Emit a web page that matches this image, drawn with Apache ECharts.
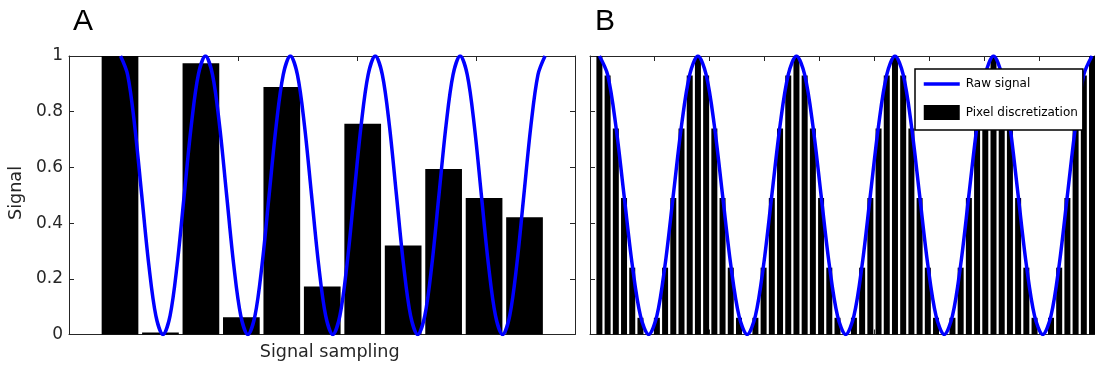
<!DOCTYPE html>
<html>
<head>
<meta charset="utf-8">
<script src="https://cdn.jsdelivr.net/npm/echarts@6/dist/echarts.min.js"></script>
<style>
html, body { margin: 0; padding: 0; background: #fff; }
#chart { width: 1095px; height: 365px; }
</style>
</head>
<body>
<div id="chart"></div>
<script>
// raw signal at 12 points per period (5 periods)
var rawSignal = [
	1, 0.933, 0.75, 0.5, 0.25, 0.067, 0, 0.067, 0.25, 0.5, 0.75, 0.933,
	1, 0.933, 0.75, 0.5, 0.25, 0.067, 0, 0.067, 0.25, 0.5, 0.75, 0.933,
	1, 0.933, 0.75, 0.5, 0.25, 0.067, 0, 0.067, 0.25, 0.5, 0.75, 0.933,
	1, 0.933, 0.75, 0.5, 0.25, 0.067, 0, 0.067, 0.25, 0.5, 0.75, 0.933,
	1, 0.933, 0.75, 0.5, 0.25, 0.067, 0, 0.067, 0.25, 0.5, 0.75, 0.933,
	1
];

// panel A: coarse pixels
var coarsePixels = [1.0, 0.007, 0.974, 0.062, 0.889, 0.172, 0.757, 0.32, 0.594, 0.49, 0.421];

// panel B: fine pixels
var finePixels = [
	1, 0.93, 0.74, 0.49, 0.24, 0.06, 0, 0.06, 0.24, 0.49, 0.74, 0.93,
	1, 0.93, 0.74, 0.49, 0.24, 0.06, 0, 0.06, 0.24, 0.49, 0.74, 0.93,
	1, 0.93, 0.74, 0.49, 0.24, 0.06, 0, 0.06, 0.24, 0.49, 0.74, 0.93,
	1, 0.93, 0.74, 0.49, 0.24, 0.06, 0, 0.06, 0.24, 0.49, 0.74, 0.93,
	1, 0.93, 0.74, 0.49, 0.24, 0.06, 0, 0.06, 0.24, 0.49, 0.74, 0.93,
	1
];

// unlabelled x tick positions (in pixel index units)
var coarseTicks = [-0.03, 2.92, 5.86, 8.8];
var fineTicks = [-0.05, 6.65, 13.35, 20.05, 26.75, 33.45, 40.15, 46.85, 53.55];

var axisColor = '#262626';
var font = 'DejaVu Sans';

function toPoints(arr)
{
	return arr.map(function(v, i) { return [i, v]; });
}

function xFrame(grid, pos, min, max, ticks)
{
	return {
		gridIndex: grid, type: 'value', position: pos, min: min, max: max,
		axisLine: { show: true, onZero: false, lineStyle: { color: axisColor, width: 1 } },
		axisTick: { show: true, inside: true, length: 5, customValues: ticks, lineStyle: { color: axisColor } },
		axisLabel: { show: false },
		splitLine: { show: false }
	};
}

function yFrame(grid, pos, labels)
{
	return {
		gridIndex: grid, type: 'value', position: pos, min: 0, max: 1, interval: 0.2,
		axisLine: { show: true, onZero: false, lineStyle: { color: axisColor, width: 1 } },
		axisTick: { show: true, inside: true, length: 5, lineStyle: { color: axisColor } },
		axisLabel: {
			show: labels, margin: 6, color: axisColor, fontFamily: font, fontSize: 17,
			formatter: function(v) { return String(+v.toFixed(1)); }
		},
		splitLine: { show: false }
	};
}

var option = {
	animation: false,
	backgroundColor: '#fff',
	grid: [
		{ left: 69, top: 56, width: 506, height: 278.5, outerBoundsMode: 'none' },
		{ left: 590, top: 56, width: 504, height: 278.5, outerBoundsMode: 'none' }
	],
	xAxis: [
		xFrame(0, 'bottom', -1.261, 11.248, coarseTicks),
		xFrame(0, 'top', -1.261, 11.248, coarseTicks),
		{ gridIndex: 0, type: 'value', show: false, min: -7.28, max: 64.23 },
		xFrame(1, 'bottom', -1.145, 60.24, fineTicks),
		xFrame(1, 'top', -1.145, 60.24, fineTicks)
	],
	yAxis: [
		yFrame(0, 'left', true),
		yFrame(0, 'right', false),
		yFrame(1, 'left', false),
		yFrame(1, 'right', false)
	],
	legend: {
		orient: 'vertical', left: 915, top: 69,
		itemWidth: 36, itemHeight: 15, itemGap: 15,
		padding: [9, 5, 10, 7],
		borderColor: '#000', borderWidth: 1.5, backgroundColor: '#fff',
		selectedMode: false,
		textStyle: { fontFamily: font, fontSize: 12, color: '#000', padding: [0, 0, 0, 1] },
		data: [
			{ name: 'Raw signal', itemStyle: { opacity: 0 }, lineStyle: { color: '#0000ff', width: 3.5 } },
			{ name: 'Pixel discretization', icon: 'rect' }
		]
	},
	series: [
		{
			name: 'Pixel discretization', type: 'bar', xAxisIndex: 0, yAxisIndex: 0,
			barWidth: 36.7, clip: true,
			itemStyle: { color: '#000', borderWidth: 0 },
			emphasis: { disabled: true },
			data: toPoints(coarsePixels)
		},
		{
			name: 'Raw signal', type: 'line', xAxisIndex: 2, yAxisIndex: 0,
			symbol: 'none', smooth: 0.33, z: 3,
			lineStyle: { color: '#0000ff', width: 3.5 },
			itemStyle: { color: '#0000ff' },
			emphasis: { disabled: true },
			data: toPoints(rawSignal)
		},
		{
			name: 'Pixel discretization', type: 'bar', xAxisIndex: 3, yAxisIndex: 2,
			barWidth: 6, clip: true,
			itemStyle: { color: '#000', borderWidth: 0 },
			emphasis: { disabled: true },
			data: toPoints(finePixels)
		},
		{
			name: 'Raw signal', type: 'line', xAxisIndex: 3, yAxisIndex: 2,
			symbol: 'none', smooth: 0.33, z: 3, clip: true,
			lineStyle: { color: '#0000ff', width: 3.5 },
			itemStyle: { color: '#0000ff' },
			emphasis: { disabled: true },
			data: toPoints(rawSignal)
		}
	],
	graphic: [
		{ type: 'text', x: 73, y: 21.3, style: { text: 'A', fontFamily: 'Liberation Sans', fontSize: 30, fill: '#000', align: 'left', verticalAlign: 'middle' } },
		{ type: 'text', x: 595, y: 21.3, style: { text: 'B', fontFamily: 'Liberation Sans', fontSize: 30, fill: '#000', align: 'left', verticalAlign: 'middle' } },
		{ type: 'text', x: 329.7, y: 352.2, style: { text: 'Signal sampling', fontFamily: font, fontSize: 17.6, fill: axisColor, align: 'center', verticalAlign: 'middle' } },
		{ type: 'text', x: 16, y: 193, rotation: Math.PI / 2, style: { text: 'Signal', fontFamily: font, fontSize: 17.6, fill: axisColor, align: 'center', verticalAlign: 'middle' } }
	]
};

echarts.init(document.getElementById('chart'), null, { renderer: 'canvas' }).setOption(option);
</script>
</body>
</html>
